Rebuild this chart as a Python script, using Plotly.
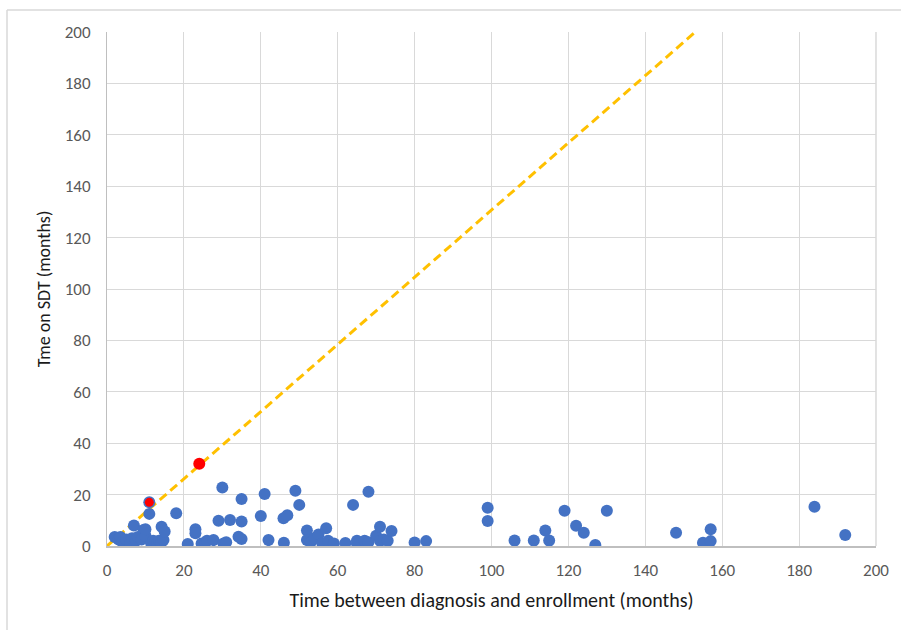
import plotly.graph_objects as go

# Data
enroll_months = [2, 3, 3.5, 4, 5, 6, 6.5, 7, 7.5, 8, 9, 9.5, 10, 10, 11, 11, 11.5, 12, 12.5, 13,
                 13.5, 14, 14.2, 14.7, 15, 18, 21, 23, 23, 24.6, 25.5, 26, 27.7, 29, 30, 30.3, 31,
                 32, 34.2, 35, 35, 35, 40, 41, 42, 45.9, 46, 46.9, 49, 50, 52, 52, 53, 54, 55, 56,
                 57, 57.5, 59, 62, 64, 65, 65, 67, 68, 68, 70, 71, 71, 72, 73, 74, 80, 83, 99, 99,
                 106, 111, 114, 115, 119, 122, 124, 127, 130, 148, 155, 157, 157, 184, 192]
sdt_months = [3.5, 2.5, 3.5, 1.5, 2.5, 1, 3, 8, 2, 3.5, 2.5, 6.2, 4, 6.5, 12.5, 17, 1, 2, 1.5, 1,
              2, 1, 7.5, 2.3, 5.6, 12.7, 0.8, 6.5, 5, 1, 1.3, 2, 2.3, 9.8, 22.8, 1, 1.5,
              10.1, 3.6, 2.7, 9.5, 18.3, 11.7, 20.2, 2.3, 10.8, 1.3, 12, 21.5, 16, 6, 2.3, 1.5, 3, 4.5, 1,
              6.9, 2, 1, 1.2, 16, 1, 2, 2, 21.1, 1.5, 4, 7.5, 2, 2.5, 2, 5.8, 1.4, 1.9, 14.9, 9.7,
              2.1, 2.1, 6, 2.1, 13.7, 7.9, 5.2, 0.4, 13.7, 5.2, 1.3, 1.9, 6.5, 15.3, 4.3]

red_small_x = [11]
red_small_y = [17]
red_big_x = [24]
red_big_y = [32]

ref_line_x = [0, 153]
ref_line_y = [0, 200]

tick_vals = list(range(0, 201, 20))

fig = go.Figure()
fig.add_trace(go.Scatter(x=ref_line_x, y=ref_line_y, mode="lines",
                         line=dict(color="#FFC000", width=3, dash="9px,5px"),
                         hoverinfo="skip", showlegend=False))
fig.add_trace(go.Scatter(x=enroll_months, y=sdt_months, mode="markers",
                         marker=dict(color="#4472C4", size=12, line=dict(width=0)),
                         showlegend=False))
fig.add_trace(go.Scatter(x=red_small_x, y=red_small_y, mode="markers",
                         marker=dict(color="#FF0000", size=9, line=dict(width=0)),
                         showlegend=False))
fig.add_trace(go.Scatter(x=red_big_x, y=red_big_y, mode="markers",
                         marker=dict(color="#FF0000", size=12, line=dict(width=0)),
                         showlegend=False))

L, R, T, B = 107, 25, 32, 84
W, H = 901, 630
pw, ph = W - L - R, H - T - B

fig.update_layout(
    width=W, height=H,
    margin=dict(l=L, r=R, t=T, b=B),
    paper_bgcolor="white", plot_bgcolor="white",
    font=dict(family="Carlito, Calibri, Liberation Sans, sans-serif", color="#595959", size=17),
    xaxis=dict(range=[0, 200], tickvals=tick_vals, showgrid=True, gridcolor="#D9D9D9",
               gridwidth=1, zeroline=False, showline=True, linecolor="#BFBFBF", linewidth=1.5,
               mirror=False, ticks="", ticklen=0, ticklabelstandoff=8,
               tickfont=dict(size=17, color="#595959"),
               title=dict(text="Time between diagnosis and enrollment (months)",
                          font=dict(size=20, color="#1a1a1a"), standoff=13)),
    yaxis=dict(range=[0, 200], tickvals=tick_vals, showgrid=True, gridcolor="#D9D9D9",
               gridwidth=1, zeroline=False, showline=True, linecolor="#BFBFBF", linewidth=1,
               ticks="", ticklabelstandoff=12, tickfont=dict(size=17, color="#595959"),
               title=dict(text="Tme on SDT (months)", font=dict(size=18, color="#1a1a1a"),
                          standoff=9)),
    shapes=[
        dict(type="rect", xref="paper", yref="paper", layer="below",
             x0=1, x1=1, y0=0, y1=1, line=dict(color="#D9D9D9", width=1)),
        dict(type="line", xref="paper", yref="paper",
             x0=(7 - L) / pw, x1=(7 - L) / pw, y0=(H - B - 10) / ph, y1=(H - B - 640) / ph,
             line=dict(color="#D9D9D9", width=1.5)),
        dict(type="line", xref="paper", yref="paper",
             x0=(7 - L) / pw, x1=(910 - L) / pw, y0=(H - B - 10) / ph, y1=(H - B - 10) / ph,
             line=dict(color="#D9D9D9", width=1.5)),
    ],
)

fig.write_html("out.html", config={"displayModeBar": False},
               post_script="document.body.style.margin='0';document.body.style.overflow='hidden';")
